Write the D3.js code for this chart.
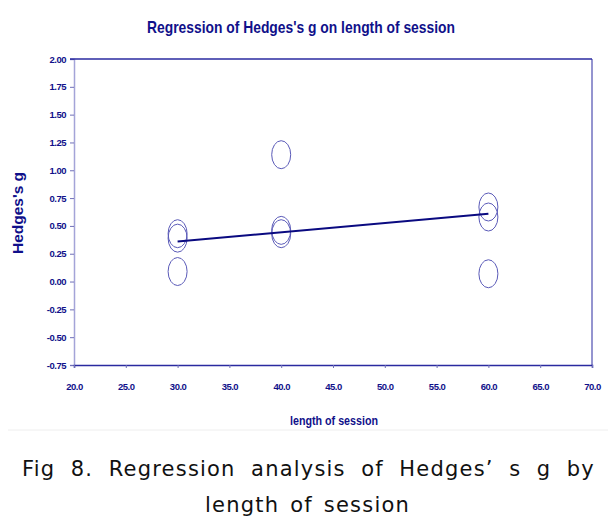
<!DOCTYPE html>
<html>
<head>
<meta charset="utf-8">
<script src="https://cdn.jsdelivr.net/npm/d3@7"></script>
<style>
  body { margin: 0; background: #fff; }
  svg { display: block; }
</style>
</head>
<body>
<div id="chart"></div>
<script>
// data
const sessionLength = [30, 30, 30, 40, 40, 40, 60, 60, 60];
const hedgesG = [0.43, 0.39, 0.09, 1.14, 0.46, 0.43, 0.67, 0.58, 0.07];
const fitX = [30, 60];
const fitY = [0.36, 0.61];
const xTicks = [20, 25, 30, 35, 40, 45, 50, 55, 60, 65, 70];
const yTicks = [-0.75, -0.5, -0.25, 0, 0.25, 0.5, 0.75, 1, 1.25, 1.5, 1.75, 2];

const W = 616, H = 530;
const navy = "#10108a";

const svg = d3.select("#chart").append("svg")
    .attr("width", W)
    .attr("height", H)
    .style("font-family", "'Liberation Sans', Arial, sans-serif");

const x = d3.scaleLinear().domain([20, 70]).range([74, 592]);
const y = d3.scaleLinear().domain([-0.75, 2]).range([365, 59]);

// title
svg.append("text")
    .attr("x", 301).attr("y", 33)
    .attr("text-anchor", "middle")
    .attr("font-size", 17).attr("font-weight", "bold")
    .attr("fill", navy)
    .attr("textLength", 308).attr("lengthAdjust", "spacingAndGlyphs")
    .text("Regression of Hedges's g on length of session");

// y axis
const yAxis = svg.append("g")
    .attr("transform", `translate(${x(20)},0)`)
    .call(d3.axisLeft(y).tickValues(yTicks).tickSize(4).tickPadding(4).tickFormat(d => d.toFixed(2)));
yAxis.select(".domain").attr("stroke", "#a4a4d8").attr("stroke-width", 1.5);
yAxis.selectAll(".tick line").attr("stroke", "#7070b8");
yAxis.selectAll(".tick text")
    .attr("font-size", 9.5).attr("font-weight", "bold")
    .attr("letter-spacing", -0.5)
    .attr("fill", navy)
    .attr("font-family", "'Liberation Sans', Arial, sans-serif");

// x axis
const xAxis = svg.append("g")
    .attr("transform", `translate(0,${y(-0.75)})`)
    .call(d3.axisBottom(x).tickValues(xTicks).tickSize(3).tickPadding(15).tickFormat(d => d.toFixed(1)));
xAxis.select(".domain").attr("stroke", "#2a2aa0").attr("stroke-width", 1.5);
xAxis.selectAll(".tick line").attr("stroke", "#7070b8");
xAxis.selectAll(".tick text")
    .attr("font-size", 9.5).attr("font-weight", "bold")
    .attr("letter-spacing", -0.5)
    .attr("fill", navy)
    .attr("font-family", "'Liberation Sans', Arial, sans-serif");

// frame top and right
svg.append("line")
    .attr("x1", x(20) - 4).attr("x2", x(70))
    .attr("y1", y(2)).attr("y2", y(2))
    .attr("stroke", "#2a2aa0").attr("stroke-width", 1.5);
svg.append("line")
    .attr("x1", x(70)).attr("x2", x(70))
    .attr("y1", y(2)).attr("y2", y(-0.75))
    .attr("stroke", "#2a2aa0").attr("stroke-width", 1);

// axis titles
svg.append("text")
    .attr("transform", `translate(23,213) rotate(-90)`)
    .attr("text-anchor", "middle")
    .attr("font-size", 14).attr("font-weight", "bold")
    .attr("fill", navy)
    .attr("textLength", 82).attr("lengthAdjust", "spacingAndGlyphs")
    .text("Hedges's g");

svg.append("text")
    .attr("x", 334).attr("y", 425)
    .attr("text-anchor", "middle")
    .attr("font-size", 13).attr("font-weight", "bold")
    .attr("fill", navy)
    .attr("textLength", 88).attr("lengthAdjust", "spacingAndGlyphs")
    .text("length of session");

// points
svg.append("g").selectAll("ellipse")
    .data(sessionLength.map((d, i) => ({ x: d, y: hedgesG[i] })))
    .join("ellipse")
    .attr("cx", d => x(d.x))
    .attr("cy", d => y(d.y))
    .attr("rx", 9.5).attr("ry", 14)
    .attr("fill", "none")
    .attr("stroke", "#5a5ab8")
    .attr("stroke-width", 1);

// regression line
const line = d3.line().x(d => x(d[0])).y(d => y(d[1]));
svg.append("path")
    .datum(fitX.map((d, i) => [d, fitY[i]]))
    .attr("d", line)
    .attr("fill", "none")
    .attr("stroke", "#0a0a80")
    .attr("stroke-width", 2);

// separator + caption
svg.append("line")
    .attr("x1", 8).attr("x2", 608)
    .attr("y1", 430).attr("y2", 430)
    .attr("stroke", "#eeeeee");

// justify a caption line: small letter gaps, the rest goes to word gaps
function caption(txt, x0, yb, width) {
    const t = svg.append("text")
        .attr("x", x0).attr("y", yb)
        .attr("font-size", 21)
        .attr("font-family", "'DejaVu Sans', 'Noto Sans', sans-serif")
        .attr("letter-spacing", 1.2)
        .attr("fill", "#111")
        .text(txt);
    const gaps = txt.split(" ").length - 1;
    const w = t.node().getComputedTextLength();
    t.attr("word-spacing", Math.max(0, (width - w) / gaps));
    return t;
}
caption("Fig 8. Regression analysis of Hedges’ s g by", 22, 476, 573);
caption("length of session", 205, 512, 205);
</script>
</body>
</html>
